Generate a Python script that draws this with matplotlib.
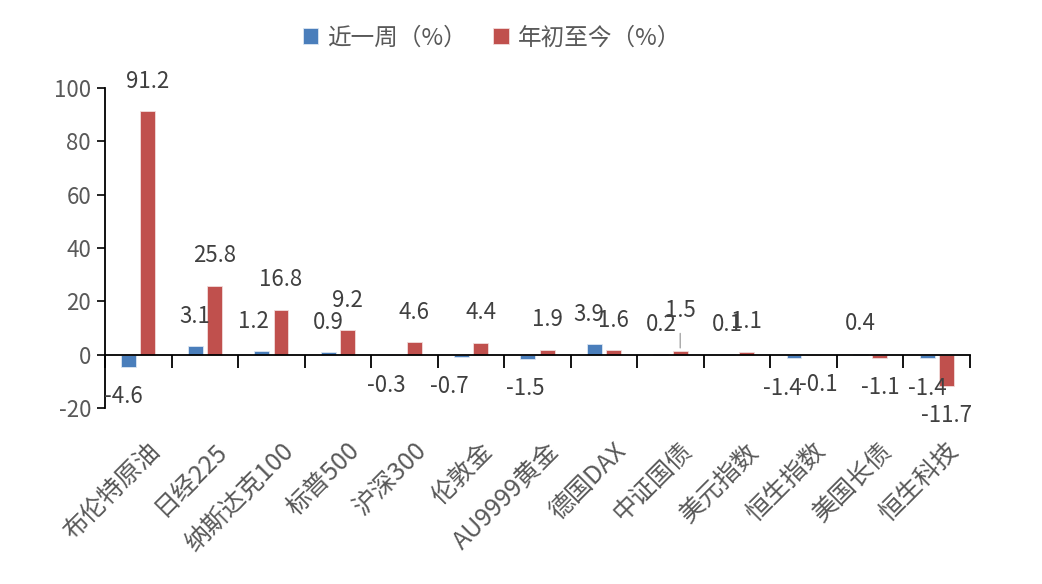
import matplotlib
matplotlib.use("Agg")
import matplotlib.pyplot as plt
import matplotlib.transforms as mtransforms
import numpy as np

plt.rcParams['font.family'] = ['Noto Sans CJK SC', 'DejaVu Sans']
plt.rcParams['axes.unicode_minus'] = False

# data
categories = ['布伦特原油', '日经225', '纳斯达克100', '标普500', '沪深300', '伦敦金',
              'AU9999黄金', '德国DAX', '中证国债', '美元指数', '恒生指数', '美国长债', '恒生科技']
week = [-4.6, 3.1, 1.2, 0.9, -0.3, -0.7, -1.5, 3.9, 0.2, 0.1, -1.4, 0.4, -1.4]
ytd = [91.2, 25.8, 16.8, 9.2, 4.6, 4.4, 1.9, 1.6, 1.5, 1.1, -0.1, -1.1, -11.7]
series_names = ['近一周（%）', '年初至今（%）']
yticks = [-20, 0, 20, 40, 60, 80, 100]

blue = '#4a7ebb'
red = '#c0504d'
grey = '#595959'
dark = '#404040'

# small horizontal nudges (pixels) for labels Excel shifted
week_dx = [-5, 0, -8, 0, -8, -12, -3, -6, 0, 0, -12, 0, 0]
ytd_dx = [0, 0, 0, 0, 0, 0, 0, 0, 0, 0, 5, 0, 0]

fig = plt.figure(figsize=(10.42, 5.84), dpi=100)
ax = fig.add_axes([105 / 1042, 1 - 408 / 584, 865 / 1042, 320 / 584])

n = len(categories)
x = np.arange(n) + 0.5
w = 0.225
off = 0.145
b1 = ax.bar(x - off, week, w, color=blue, edgecolor='#dce6f2', linewidth=0.6, label=series_names[0])
b2 = ax.bar(x + off, ytd, w, color=red, edgecolor='#f2dcdb', linewidth=0.6, label=series_names[1])

ax.set_xlim(0, n)
ax.set_ylim(-20, 100)
ax.set_yticks(yticks)
ax.tick_params(axis='y', direction='out', length=6, width=1.2, colors='black',
               labelcolor=grey, labelsize=16, pad=4)
ax.spines['top'].set_visible(False)
ax.spines['right'].set_visible(False)
ax.spines['left'].set_linewidth(1.3)
ax.spines['bottom'].set_position(('data', 0))
ax.spines['bottom'].set_linewidth(1.3)
ax.set_xticks(np.arange(n + 1))
ax.set_xticklabels([])
ax.tick_params(axis='x', direction='out', length=9, width=1.3)


def put_labels(vals, xs, dxs, color):
    for xi, v, dx in zip(xs, vals, dxs):
        dy = 30 if v >= 0 else -30
        ax.annotate(f'{v:.1f}', (xi, v), xytext=(dx, dy), textcoords='offset pixels',
                    ha='center', va='center', fontsize=16, color=color)


put_labels(week, x - off, week_dx, dark)
put_labels(ytd, x + off, ytd_dx, dark)

# 中证国债 label sits higher with a leader line
i = categories.index('中证国债')
ax.texts[-(n - i)].set_position((0, 40))
ax.annotate('', (x[i] + off, ytd[i]), xytext=(0, 20), textcoords='offset pixels',
            arrowprops=dict(arrowstyle='-', color='#a6a6a6', lw=1))

# rotated category labels under the plot
trans = mtransforms.blended_transform_factory(ax.transData, ax.transAxes)
for xi, lab in zip(x, categories):
    ax.annotate(lab, (xi, 0), xycoords=trans, xytext=(9, -30), textcoords='offset pixels',
                rotation=45, ha='right', va='top', rotation_mode='anchor',
                fontsize=18, color=grey)

fig.legend(handles=[b1, b2], labels=series_names, loc='center',
           bbox_to_anchor=(492 / 1042, 1 - 38 / 584), ncol=2, frameon=False,
           fontsize=17, labelcolor=grey, handlelength=0.65, handleheight=0.65,
           handletextpad=0.4, columnspacing=1.1)

fig.savefig('out.png', dpi=100)
